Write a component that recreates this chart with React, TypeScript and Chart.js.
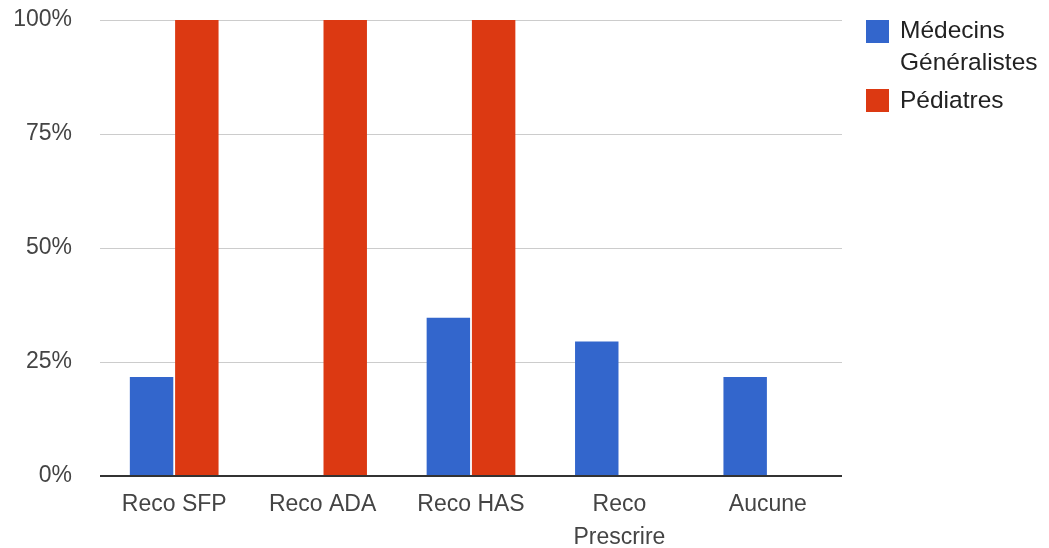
import React, { useEffect, useRef } from "react";
import { Chart, registerables } from "chart.js";

Chart.register(...registerables);

const categories: (string | string[])[] = ["Reco SFP", "Reco ADA", "Reco HAS", ["Reco", "Prescrire"], "Aucune"];
const generalistes = [21.7, 0, 34.7, 29.5, 21.7];
const pediatres = [100, 100, 100, 0, 0];
const seriesNames = ["Médecins Généralistes", "Pédiatres"];
const yTicks = [0, 25, 50, 75, 100];

const BLUE = "#3366cc";
const RED = "#dc3912";
const FONT = "'Liberation Sans', Arial, sans-serif";

export default function App() {
  const ref = useRef<HTMLCanvasElement | null>(null);

  useEffect(() => {
    if (!ref.current) return;
    const chart = new Chart(ref.current, {
      type: "bar",
      data: {
        labels: categories as any,
        datasets: [
          { label: seriesNames[0], data: generalistes, backgroundColor: BLUE, categoryPercentage: 0.61, barPercentage: 0.96 },
          { label: seriesNames[1], data: pediatres, backgroundColor: RED, categoryPercentage: 0.61, barPercentage: 0.96 },
        ],
      },
      options: {
        animation: false,
        responsive: false,
        maintainAspectRatio: false,
        layout: { padding: { top: 20, right: 207, left: 0, bottom: 0 } },
        plugins: { legend: { display: false }, tooltip: { enabled: false } },
        scales: {
          x: {
            grid: { display: false },
            border: { display: false },
            ticks: { color: "#444", font: { family: FONT, size: 23, lineHeight: 1.4 }, padding: 5, maxRotation: 0, autoSkip: false },
            afterFit: (s: any) => { s.height = 72; s.paddingLeft = 0; s.paddingRight = 0; },
          },
          y: {
            min: 0,
            max: 100,
            afterBuildTicks: (s: any) => { s.ticks = yTicks.map((v) => ({ value: v })); },
            grid: {
              drawTicks: false,
              color: (c: any) => (c.tick && c.tick.value === 0 ? "#333" : "#cccccc"),
              lineWidth: (c: any) => (c.tick && c.tick.value === 0 ? 2 : 1),
            },
            border: { display: false },
            ticks: {
              color: "#444",
              font: { family: FONT, size: 23 },
              padding: 28,
              callback: (v: any) => v + "%",
            },
            afterFit: (s: any) => { s.width = 100; s.paddingTop = 0; s.paddingBottom = 0; },
          },
        },
      },
    });
    return () => chart.destroy();
  }, []);

  const textStyle: React.CSSProperties = {
    position: "absolute",
    left: 900,
    fontFamily: FONT,
    fontSize: 24.5,
    lineHeight: "32px",
    color: "#222",
    whiteSpace: "nowrap",
  };

  return (
    <div style={{ position: "fixed", left: 0, top: 0, width: 1049, height: 548, background: "#fff" }}>
      <canvas ref={ref} width={1049} height={548} style={{ width: 1049, height: 548, display: "block" }} />
      <div style={{ position: "absolute", left: 866, top: 20, width: 23, height: 23, background: BLUE }} />
      <div style={{ ...textStyle, top: 14 }}>Médecins<br />Généralistes</div>
      <div style={{ position: "absolute", left: 866, top: 89, width: 23, height: 23, background: RED }} />
      <div style={{ ...textStyle, top: 84 }}>{seriesNames[1]}</div>
    </div>
  );
}
